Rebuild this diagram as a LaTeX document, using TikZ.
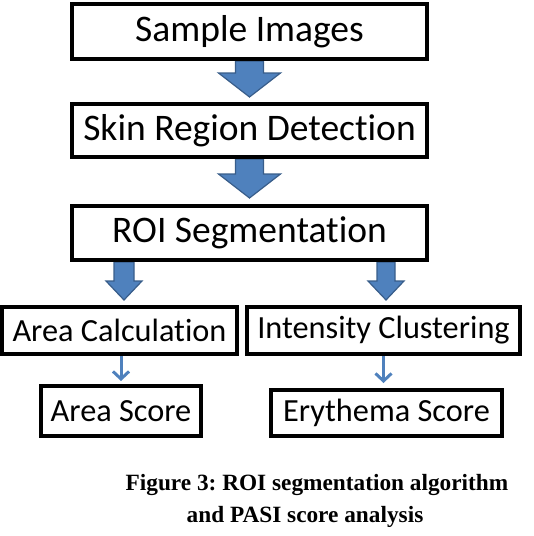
\documentclass[tikz,border=0pt]{standalone}
\usepackage{fontspec}
\setmainfont[RawFeature=-liga]{Carlito}
\newfontfamily\capfont{Liberation Serif}
\usetikzlibrary{calc,backgrounds,arrows.meta}
\definecolor{arrfill}{HTML}{4F81BD}
\definecolor{arredge}{HTML}{385D8A}
\newcommand{\clrfill}{arrfill}
\newcommand{\clredge}{arredge}
\frenchspacing
% fat block arrow: start, tip, shaft half width, head half width, head length
\newcommand{\blockarrow}[5]{%
    \path[fatarrow] let \p1=(#1), \p2=(#2) in
        (\x2-#3,\y1) -- (\x2+#3,\y1) -- (\x2+#3,\y2+#5) -- (\x2+#4,\y2+#5)
        -- (\x2,\y2) -- (\x2-#4,\y2+#5) -- (\x2-#3,\y2+#5) -- cycle;}

\begin{document}
\begin{tikzpicture}[x=1pt, y=1pt,
    stage/.style={draw, line width=4pt, fill=white, inner sep=0pt, font=\fontsize{37.5}{40}\selectfont},
    substage/.style={stage, font=\fontsize{32.3}{34}\selectfont},
    fatarrow/.style={fill=\clrfill, draw=\clredge, line width=1.2pt},
    thinarrow/.style={draw=\clrfill, line width=3pt, -{Straight Barb[length=7.5pt, width=16pt]}},
    caption/.style={inner sep=0pt, anchor=base, font=\capfont\bfseries\fontsize{23.3}{32}\selectfont}]
    \useasboundingbox (0,0) rectangle (534,-536);

    \node[stage, minimum width=355, minimum height=55] (sample) at (249.5,-31.5) {Sample Images};
    \node[stage, minimum width=355, minimum height=53] (skin) at (249.5,-130.5) {Skin Region Detection};
    \node[stage, minimum width=355, minimum height=54] (roi) at (249.5,-233) {ROI Segmentation};

    \node[substage, minimum width=235, minimum height=47] (areacalc) at (119.5,-330.5) {Area Calculation};
    \node[substage, minimum width=273, minimum height=47] (intensity) at (383.5,-330.5) {Intensity Clustering};
    \node[substage, minimum width=160, minimum height=50] (areascore) at (121,-411) {Area Score};
    \node[substage, minimum width=231, minimum height=46] (erythema) at (386.5,-413) {Erythema Score};

    \begin{scope}[on background layer]
        \blockarrow{sample.south}{$(skin.north)+(0,5)$}{14pt}{31pt}{24pt}
        \blockarrow{skin.south}{$(roi.north)+(0,6)$}{14pt}{31pt}{24pt}
        \blockarrow{roi.south}{$(areacalc.north)+(4.5,5)$}{10pt}{18pt}{19pt}
        \blockarrow{roi.south}{$(intensity.north)+(2.5,5)$}{9pt}{18pt}{19pt}

        \draw[thinarrow] (areacalc.south -| areascore.north) -- ($(areascore.north)+(0,3)$);
        \draw[thinarrow] (intensity.south) -- ($(intensity.south |- erythema.north)+(0,5)$);
    \end{scope}

    \node[caption] (capa) at (317,-490) {Figure 3: ROI segmentation algorithm};
    \node[caption] (capb) at (305,-522) {and PASI score analysis};
\end{tikzpicture}
\end{document}
